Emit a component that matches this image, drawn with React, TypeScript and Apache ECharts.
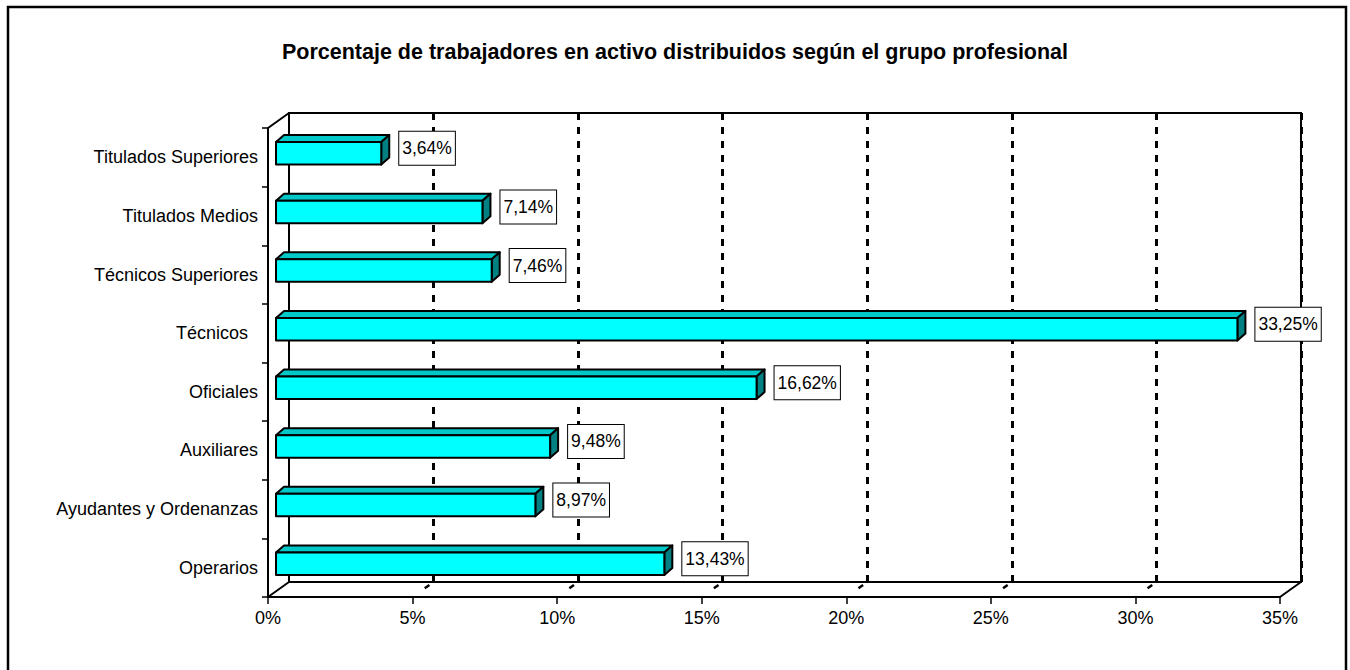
import React, { useEffect, useRef } from "react";
import * as echarts from "echarts";

const chartTitle =
  "Porcentaje de trabajadores en activo distribuidos según el grupo profesional";
const categories = [
  "Titulados Superiores",
  "Titulados Medios",
  "Técnicos Superiores",
  "Técnicos  ",
  "Oficiales",
  "Auxiliares",
  "Ayudantes y Ordenanzas",
  "Operarios",
];
const values = [3.64, 7.14, 7.46, 33.25, 16.62, 9.48, 8.97, 13.43];
const axisMin = 0;
const axisMax = 35;
const axisStep = 5;
const gridValues = [0, 5, 10, 15, 20, 25, 30, 35];

const FONT = "'Liberation Sans', Arial, Helvetica, sans-serif";
const DEPTH_X = 21;
const DEPTH_Y = -15;

const fmt = (v: number) => v.toFixed(2).replace(".", ",") + "%";

export default function App() {
  const ref = useRef<HTMLDivElement>(null);

  useEffect(() => {
    if (!ref.current) return;
    const chart = echarts.init(ref.current, null, { renderer: "svg" });

    const frameSeries = {
      type: "custom",
      xAxisIndex: 0,
      yAxisIndex: 0,
      z: 3,
      silent: true,
      encode: { x: 0, y: 1 },
      data: gridValues.map((v) => [v, 0]),
      renderItem: (params: any, api: any) => {
        const v = api.value(0);
        const cs = params.coordSys;
        const x = api.coord([v, 0])[0];
        const yb = cs.y + cs.height;
        const children: any[] = [];
        const stroke = { stroke: "#000", lineWidth: 2 };
        if (v === axisMin || v === axisMax) {
          children.push({
            type: "line",
            shape: { x1: x, y1: yb, x2: x + DEPTH_X, y2: yb + DEPTH_Y },
            style: stroke,
          });
        } else {
          children.push({
            type: "line",
            shape: {
              x1: x + DEPTH_X * 0.58,
              y1: yb + DEPTH_Y * 0.58,
              x2: x + DEPTH_X * 0.8,
              y2: yb + DEPTH_Y * 0.8,
            },
            style: { stroke: "#000", lineWidth: 2.5 },
          });
        }
        if (v === axisMin) {
          children.push({
            type: "line",
            shape: { x1: x, y1: cs.y, x2: x + DEPTH_X, y2: cs.y + DEPTH_Y },
            style: stroke,
          });
        }
        return { type: "group", children };
      },
    };

    const barSeries = {
      type: "custom",
      xAxisIndex: 0,
      yAxisIndex: 0,
      z: 5,
      encode: { x: 0, y: 1 },
      data: values.map((v, i) => [v, i]),
      renderItem: (params: any, api: any) => {
        const v = api.value(0);
        const i = api.value(1);
        const p0 = api.coord([0, i]);
        const p1 = api.coord([v, i]);
        const band = api.size([0, 1])[1];
        const h = band * 0.385;
        const fx = 8;
        const fy = -4;
        const dx = 8;
        const dy = -7;
        const L = p0[0] + fx;
        const R = p1[0] + fx;
        const T = p0[1] + fy - h / 2;
        const B = p0[1] + fy + h / 2;
        const edge = { stroke: "#000", lineWidth: 2, lineJoin: "round" };
        return {
          type: "group",
          children: [
            {
              type: "polygon",
              shape: { points: [[L, T], [L + dx, T + dy], [R + dx, T + dy], [R, T]] },
              style: { fill: "#00C8C8", ...edge },
            },
            {
              type: "polygon",
              shape: { points: [[R, T], [R + dx, T + dy], [R + dx, B + dy], [R, B]] },
              style: { fill: "#008080", ...edge },
            },
            {
              type: "polygon",
              shape: { points: [[L, T], [R, T], [R, B], [L, B]] },
              style: { fill: "#00FFFF", ...edge },
            },
            {
              type: "text",
              x: R + 18,
              y: p0[1] - 9,
              style: {
                text: fmt(v),
                fill: "#000",
                fontSize: 17.5,
                fontFamily: FONT,
                align: "left",
                verticalAlign: "middle",
                lineHeight: 19,
                backgroundColor: "#fff",
                borderColor: "#000",
                borderWidth: 1,
                padding: [7, 3],
              },
            },
          ],
        };
      },
    };

    const option: any = {
      animation: false,
      backgroundColor: "#fff",
      title: {
        text: chartTitle,
        left: "center",
        top: 36,
        textStyle: {
          fontFamily: FONT,
          fontSize: 21.5,
          fontWeight: "bold",
          color: "#000",
        },
      },
      graphic: [
        {
          type: "rect",
          z: 0,
          shape: { x: 8, y: 7, width: 1338, height: 690 },
          style: { fill: "none", stroke: "#000", lineWidth: 2.5 },
          silent: true,
        },
      ],
      grid: [
        { left: 268, right: 70, top: 128, bottom: 73, show: false },
        {
          left: 289,
          right: 49,
          top: 113,
          bottom: 88,
          show: true,
          borderColor: "#000",
          borderWidth: 2,
          backgroundColor: "transparent",
        },
      ],
      xAxis: [
        {
          type: "value",
          gridIndex: 0,
          min: axisMin,
          max: axisMax,
          interval: axisStep,
          axisLine: { show: true, lineStyle: { color: "#000", width: 2 } },
          axisTick: { show: true, length: 7, lineStyle: { color: "#000", width: 1.5 } },
          axisLabel: {
            formatter: (v: number) => v + "%",
            color: "#000",
            fontFamily: FONT,
            fontSize: 18,
            margin: 12,
          },
          splitLine: { show: false },
        },
        {
          type: "value",
          gridIndex: 1,
          min: axisMin,
          max: axisMax,
          interval: axisStep,
          axisLine: { show: false },
          axisTick: { show: false },
          axisLabel: { show: false },
          splitLine: {
            show: true,
            showMinLine: false,
            lineStyle: { color: "#000", width: 3, type: [7, 7] },
          },
        },
      ],
      yAxis: [
        {
          type: "category",
          gridIndex: 0,
          data: categories,
          inverse: true,
          axisLine: { show: true, lineStyle: { color: "#000", width: 2 } },
          axisTick: { show: true, length: 6, lineStyle: { color: "#000", width: 1.5 } },
          axisLabel: { color: "#000", fontFamily: FONT, fontSize: 18, margin: 10 },
          splitLine: { show: false },
        },
        {
          type: "category",
          gridIndex: 1,
          data: categories,
          inverse: true,
          show: false,
        },
      ],
      series: [frameSeries, barSeries],
    };

    chart.setOption(option);
    return () => chart.dispose();
  }, []);

  return (
    <div
      ref={ref}
      style={{ position: "absolute", left: 0, top: 0, width: 1350, height: 670 }}
    />
  );
}
